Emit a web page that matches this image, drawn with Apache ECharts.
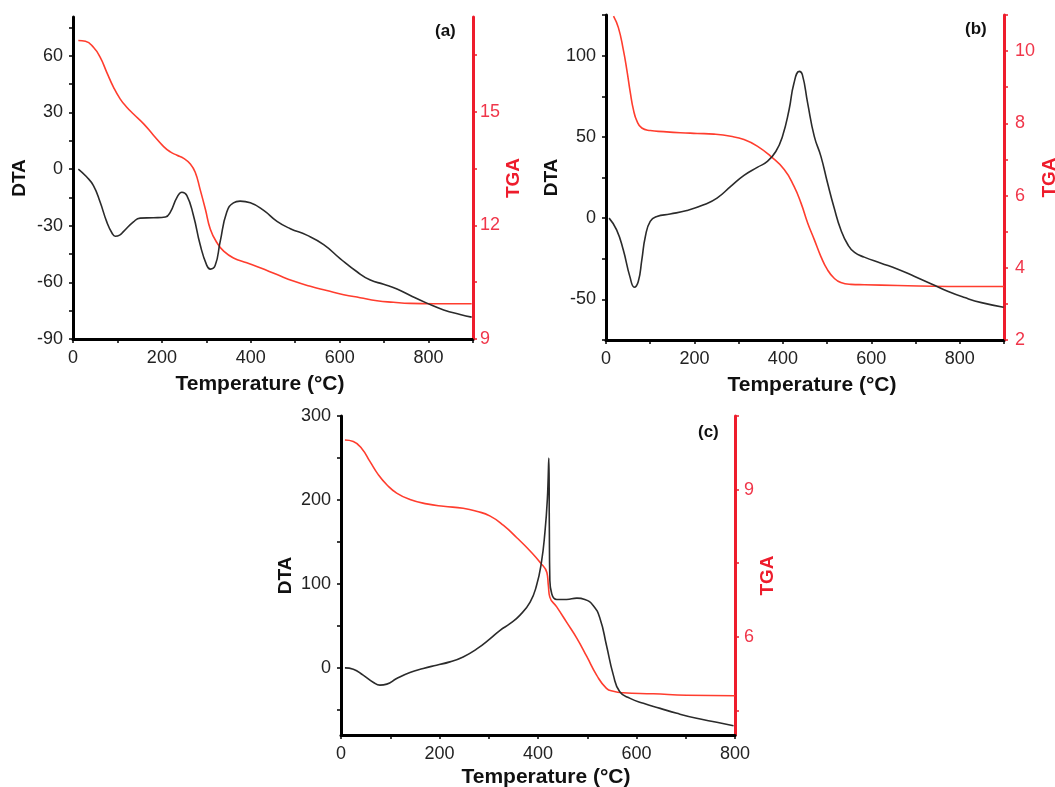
<!DOCTYPE html>
<html><head><meta charset="utf-8">
<script src="https://cdn.jsdelivr.net/npm/echarts@6/dist/echarts.min.js"></script>
<style>html,body{margin:0;padding:0;background:#fff}#c{width:1055px;height:787px}</style>
</head><body><div id="c"></div>
<script>
// ---------- data ----------
const panelLabels = ['(a)', '(b)', '(c)'];
const xTitle = 'Temperature (°C)';
const dtaTitle = 'DTA';
const tgaTitle = 'TGA';

const dtaA = [[12,0],[30,-4],[46,-8.8],[61,-17.5],[76,-28],[88,-34],[95,-35.6],[105,-35],[114,-33],[136,-28],[151,-26],[181,-25.8],[208,-25.4],[219,-22.8],[234,-15],[245,-12.3],[256,-14],[271,-24.6],[286,-40],[301,-51],[309,-53],[320,-51],[331,-38.6],[346,-22.8],[361,-17.9],[376,-17],[399,-17.9],[429,-21.9],[459,-27.7],[489,-31.6],[526,-35],[564,-40],[601,-47.4],[639,-54.4],[669,-58.8],[699,-61],[729,-63.5],[759,-67],[796,-71],[834,-74.6],[871,-77],[897,-78.4]];
const tgaA = [[12,16.88],[28,16.86],[46,16.7],[61,16.44],[76,16.04],[91,15.65],[106,15.34],[121,15.12],[136,14.94],[159,14.68],[181,14.38],[204,14.08],[219,13.94],[234,13.85],[249,13.77],[264,13.62],[275,13.4],[286,12.95],[298,12.42],[309,11.9],[324,11.54],[339,11.32],[361,11.14],[391,11.01],[421,10.88],[459,10.7],[496,10.53],[534,10.39],[571,10.28],[609,10.17],[646,10.09],[684,10.01],[721,9.97],[759,9.94],[811,9.93],[897,9.93]];

const dtaB = [[7,0],[24,-7.2],[39,-19.5],[54,-36],[64,-42.5],[73,-39],[81,-25.7],[89,-11.3],[100,-2],[115,1],[145,2.5],[183,4.7],[221,8.2],[251,12.3],[282,19.5],[312,26.3],[342,31.2],[365,34.9],[384,41],[399,50.3],[414,66.7],[425,83],[437,90.3],[444,88.3],[456,70.8],[471,50.3],[486,38],[501,21.6],[516,6.2],[531,-7.2],[547,-16.4],[562,-21.1],[584,-24],[622,-27.7],[660,-31.4],[698,-35.9],[736,-40.5],[774,-45.2],[811,-48.9],[849,-52],[899,-54.8]];
const tgaB = [[17,10.97],[28,10.65],[39,10.05],[47,9.49],[55,8.85],[62,8.38],[70,8.06],[81,7.87],[100,7.8],[130,7.77],[168,7.74],[206,7.72],[244,7.7],[282,7.64],[312,7.55],[342,7.37],[372,7.09],[403,6.72],[425,6.26],[441,5.79],[456,5.24],[471,4.78],[486,4.31],[501,3.94],[516,3.71],[531,3.59],[554,3.54],[584,3.53],[660,3.51],[774,3.48],[900,3.48]];

const dtaC = [[8,0],[25,-1.6],[45,-8.7],[66,-17.4],[79,-20.6],[93,-19.4],[113,-12.7],[140,-5.5],[167,-0.8],[194,3.2],[221,7.1],[248,13],[275,22.2],[303,34.8],[323,44.7],[343,52.6],[363,62.5],[384,78.4],[397,98],[407,126],[414,161],[419,201],[422,250],[423,169],[424,106],[428,88],[438,81.5],[458,81.5],[479,83],[495,81.5],[512,74.4],[526,58.6],[539,26.9],[553,-8.7],[566,-28.5],[587,-36.4],[614,-42.3],[648,-48.3],[682,-54.2],[722,-60.1],[763,-64.9],[797,-68.9]];
const tgaC = [[8,10.01],[25,9.98],[42,9.84],[59,9.57],[76,9.3],[93,9.1],[113,8.93],[140,8.8],[174,8.71],[208,8.66],[248,8.62],[275,8.56],[303,8.46],[330,8.27],[357,8.02],[384,7.75],[404,7.52],[418,7.31],[421,7.05],[424,6.81],[438,6.61],[458,6.3],[479,5.97],[499,5.6],[519,5.22],[539,4.95],[553,4.89],[573,4.86],[634,4.84],[702,4.81],[800,4.8]];

// tick values / tick labels
const xTicks900 = [0,100,200,300,400,500,600,700,800,900];
const xTicks800 = [0,100,200,300,400,500,600,700,800];
const xLabels = [0,200,400,600,800];
const dtaTicksA = [-90,-75,-60,-45,-30,-15,0,15,30,45,60,75];
const dtaLabelsA = [-90,-60,-30,0,30,60];
const tgaTicksA = [9,10.5,12,13.5,15,16.5];
const tgaLabelsA = [9,12,15];
const dtaTicksB = [-75,-50,-25,0,25,50,75,100,125];
const dtaLabelsB = [-50,0,50,100];
const tgaTicksB = [2,3,4,5,6,7,8,9,10,11];
const tgaLabelsB = [2,4,6,8,10];
const dtaTicksC = [-50,0,50,100,150,200,250,300];
const dtaLabelsC = [0,100,200,300];
const tgaTicksC = [4.5,6,7.5,9,10.5];
const tgaLabelsC = [6,9];

// ---------- layout / style ----------
const FONT = '"Liberation Sans", Arial, sans-serif';
const BLACK = '#111';
const RED = '#ee1c2c';
const panels = [
  {grid:{left:73,top:17,width:400,height:322}, xMax:900, xTicks:xTicks900,
   dta:dtaA, dMin:-90, dMax:80.5, dTicks:dtaTicksA, dLabels:dtaLabelsA,
   tga:tgaA, tMin:9, tMax:17.5, tTicks:tgaTicksA, tLabels:tgaLabelsA,
   dGap:44, tGap:31, xGap:35, xPad:[0,26,0,0], tMargin:7, lab:{left:435,top:23}},
  {grid:{left:606,top:15,width:398,height:325}, xMax:900, xTicks:xTicks900,
   dta:dtaB, dMin:-75, dMax:125, dTicks:dtaTicksB, dLabels:dtaLabelsB,
   tga:tgaB, tMin:2, tMax:11, tTicks:tgaTicksB, tLabels:tgaLabelsB,
   dGap:45, tGap:36, xGap:35, xPad:[0,0,0,14], tMargin:11, lab:{left:965,top:21}},
  {grid:{left:341,top:416,width:394,height:319}, xMax:800, xTicks:xTicks800,
   dta:dtaC, dMin:-80, dMax:300, dTicks:dtaTicksC, dLabels:dtaLabelsC,
   tga:tgaC, tMin:4, tMax:10.5, tTicks:tgaTicksC, tLabels:tgaLabelsC,
   dGap:46, tGap:22, xGap:32, xPad:[0,0,0,16], tMargin:9, lab:{left:698,top:424}}
];

const grid = [], xAxis = [], yAxis = [], series = [], title = [];
panels.forEach((p, i) => {
  grid.push(Object.assign({containLabel:false, outerBoundsMode:'none'}, p.grid));
  title.push({text: panelLabels[i], left: p.lab.left, top: p.lab.top, padding: 0,
    textStyle:{fontFamily:FONT, fontSize:17, fontWeight:'bold', color:BLACK}});
  xAxis.push({type:'value', gridIndex:i, min:0, max:p.xMax, position:'bottom',
    name:xTitle, nameLocation:'middle', nameGap:p.xGap,
    nameTextStyle:{fontFamily:FONT, fontSize:21, fontWeight:'bold', color:BLACK, padding:p.xPad},
    axisLine:{show:true, onZero:false, lineStyle:{color:'#000', width:3}},
    axisTick:{show:true, customValues:p.xTicks, length:4, lineStyle:{color:'#000', width:1.5}},
    axisLabel:{customValues:xLabels, margin:10, fontFamily:FONT, fontSize:18, color:'#222'},
    splitLine:{show:false}});
  yAxis.push({type:'value', gridIndex:i, min:p.dMin, max:p.dMax, position:'left',
    name:dtaTitle, nameLocation:'middle', nameGap:p.dGap,
    nameTextStyle:{fontFamily:FONT, fontSize:19, fontWeight:'bold', color:BLACK},
    axisLine:{show:true, onZero:false, lineStyle:{color:'#000', width:3}},
    axisTick:{show:true, customValues:p.dTicks, length:4, lineStyle:{color:'#000', width:1.5}},
    axisLabel:{customValues:p.dLabels, margin:10, fontFamily:FONT, fontSize:18, color:'#222'},
    splitLine:{show:false}});
  yAxis.push({type:'value', gridIndex:i, min:p.tMin, max:p.tMax, position:'right',
    name:tgaTitle, nameLocation:'middle', nameGap:p.tGap,
    nameTextStyle:{fontFamily:FONT, fontSize:19, fontWeight:'bold', color:RED},
    axisLine:{show:true, onZero:false, lineStyle:{color:RED, width:3}},
    axisTick:{show:true, customValues:p.tTicks, length:4, lineStyle:{color:RED, width:1.5}},
    axisLabel:{customValues:p.tLabels, margin:p.tMargin, fontFamily:FONT, fontSize:18, color:'#f0364a'},
    splitLine:{show:false}});
  series.push({type:'line', xAxisIndex:i, yAxisIndex:2*i, data:p.dta, showSymbol:false,
    smooth:0.5, lineStyle:{color:'#2b2b2b', width:1.6}, z:3});
  series.push({type:'line', xAxisIndex:i, yAxisIndex:2*i+1, data:p.tga, showSymbol:false,
    smooth:0.5, lineStyle:{color:'#ff3d2e', width:1.6}, z:2});
});

const chart = echarts.init(document.getElementById('c'), null, {renderer:'canvas'});
chart.setOption({animation:false, backgroundColor:'#fff', title, grid, xAxis, yAxis, series,
  tooltip:{show:false}});
</script></body></html>
